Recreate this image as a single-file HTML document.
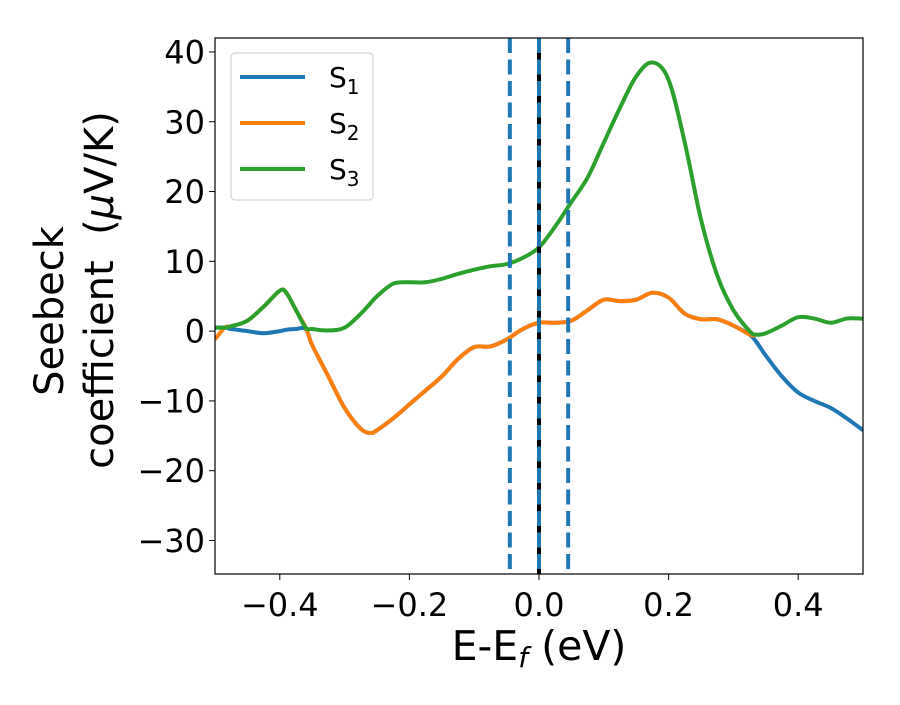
<!DOCTYPE html>
<html><head><meta charset="utf-8"><style>
body{margin:0;background:#fff}
svg text{font-family:"DejaVu Sans","Liberation Sans",sans-serif;fill:#000}
</style></head><body>
<svg id="chart" width="900" height="700" xmlns="http://www.w3.org/2000/svg">
<rect width="900" height="700" fill="#fff"/>
<g id="plot"></g>
</svg>
<script>
const xs=[-0.5,-0.485,-0.475,-0.45,-0.425,-0.4,-0.39,-0.375,-0.36,-0.35,-0.325,-0.3,-0.275,-0.26,-0.25,-0.225,-0.2,-0.175,-0.15,-0.125,-0.1,-0.075,-0.05,-0.025,0,0.025,0.05,0.075,0.1,0.125,0.15,0.175,0.2,0.225,0.25,0.275,0.3,0.325,0.335,0.35,0.375,0.4,0.425,0.45,0.475,0.5];
const s3=[0.5,0.5,0.7,1.5,3.5,5.8,5.5,3,0.5,0.3,0.1,0.5,2.5,4,5,6.8,7,7,7.5,8.2,8.8,9.3,9.6,10.5,12,15,18.5,22,27,32,36.5,38.5,36,27,16,8,3,0,-0.5,-0.3,0.8,2,1.8,1.2,1.8,1.8];
const s2=[-1.2,0.5,0.7,1.5,3.5,5.8,5.5,3,0.5,-2,-6.5,-11,-14,-14.6,-14.2,-12.5,-10.5,-8.5,-6.5,-4,-2.3,-2.2,-1.2,0.3,1.2,1.2,1.5,3,4.5,4.3,4.5,5.5,4.8,2.5,1.7,1.7,0.8,-0.5,-0.6,null,null,null,null,null,null,null];
const s1=[0.5,0.5,0.3,0,-0.3,0,0.2,0.3,0.3,-2,-6.5,-11,-14,-14.6,-14.2,-12.5,-10.5,-8.5,-6.5,-4,-2.3,-2.2,-1.2,0.3,1.2,1.2,1.5,3,4.5,4.3,4.5,5.5,4.8,2.5,1.7,1.7,0.8,-0.5,-1.5,-3.5,-6.5,-8.8,-10,-11,-12.5,-14.2];
const xTicks=[-0.4,-0.2,0.0,0.2,0.4];
const xTickLabels=["\u22120.4","\u22120.2","0.0","0.2","0.4"];
const yTicks=[-30,-20,-10,0,10,20,30,40];
const yTickLabels=["\u221230","\u221220","\u221210","0","10","20","30","40"];
const vlines=[-0.045,0,0.045];
const L=215,R=863,T=38,B=574,X0=-0.5,X1=0.5,Y0=-34.8,Y1=42.0;
const sx=v=>L+(v-X0)/(X1-X0)*(R-L);
const sy=v=>B-(v-Y0)/(Y1-Y0)*(B-T);
const NS="http://www.w3.org/2000/svg";
const g=document.getElementById('plot');
function mk(t,a,p){const e=document.createElementNS(NS,t);for(const k in a)e.setAttribute(k,a[k]);(p||g).appendChild(e);return e;}
const defs=mk('defs',{});const cp=mk('clipPath',{id:'c'},defs);mk('rect',{x:L,y:T,width:R-L,height:B-T},cp);
function path(ys){let pts=[];for(let i=0;i<xs.length;i++)if(ys[i]!==null)pts.push([sx(xs[i]),sy(ys[i])]);
 let d='M'+pts[0][0]+','+pts[0][1];
 for(let i=0;i<pts.length-1;i++){const p0=pts[i-1]||pts[i],p1=pts[i],p2=pts[i+1],p3=pts[i+2]||p2;
 d+=' C'+(p1[0]+(p2[0]-p0[0])/6)+','+(p1[1]+(p2[1]-p0[1])/6)+' '+(p2[0]-(p3[0]-p1[0])/6)+','+(p2[1]-(p3[1]-p1[1])/6)+' '+p2[0]+','+p2[1];}
 return d;}
const cols=['#1f77b4','#ff7f0e','#2ca02c'];
const lay=mk('g',{'clip-path':'url(#c)'});
[s1,s2,s3].forEach((s,i)=>{const p=mk('path',{d:path(s),fill:'none',stroke:cols[i],'stroke-width':4,'stroke-linejoin':'round'},lay);

});
const zl=mk('line',{x1:sx(0),x2:sx(0),y1:T,y2:B,stroke:'#000','stroke-width':4},lay);


vlines.forEach(v=>{const l=mk('line',{x1:sx(v),x2:sx(v),y1:T,y2:B,stroke:'#1f77b4','stroke-width':4,'stroke-dasharray':'15 6.5'},lay);

});
mk('rect',{x:L,y:T,width:R-L,height:B-T,fill:'none',stroke:'#000','stroke-width':1.2});
xTicks.forEach((v,i)=>{mk('line',{x1:sx(v),x2:sx(v),y1:B,y2:B+6,stroke:'#000'});
const t=mk('text',{x:sx(v),y:B+42,'text-anchor':'middle','font-size':32});t.textContent=xTickLabels[i];

});
yTicks.forEach((v,i)=>{mk('line',{x1:L-6,x2:L,y1:sy(v),y2:sy(v),stroke:'#000'});
const t=mk('text',{x:L-10,y:sy(v)+11.5,'text-anchor':'end','font-size':32});t.textContent=yTickLabels[i];

});
</script>
<svg width="900" height="700" style="position:absolute;left:0;top:0" xmlns="http://www.w3.org/2000/svg">
<text x="539" y="660" text-anchor="middle" font-size="41">E-E<tspan font-size="28" dy="7" font-style="italic">f</tspan><tspan dy="-7"> (eV)</tspan></text>
<g font-size="40">
<text transform="translate(63,311) rotate(-90)" text-anchor="middle">Seebeck</text>
<text transform="translate(113,290) rotate(-90)" text-anchor="middle" style="white-space:pre">coefficient  (<tspan font-style="italic">μ</tspan>V/K)</text>
</g>
<g>
<rect x="231" y="53" width="142" height="147" rx="4" fill="#fff" fill-opacity="0.85" stroke="#ccc"/>
<g><line x1="240" x2="305" y1="77" y2="77" stroke="#1f77b4" stroke-width="4"/><text x="329" y="87" font-size="28">S<tspan font-size="20" dy="7">1</tspan></text></g>
<g><line x1="240" x2="305" y1="123" y2="123" stroke="#ff7f0e" stroke-width="4"/><text x="329" y="133" font-size="28">S<tspan font-size="20" dy="7">2</tspan></text></g>
<g><line x1="240" x2="305" y1="169" y2="169" stroke="#2ca02c" stroke-width="4"/><text x="329" y="179" font-size="28">S<tspan font-size="20" dy="7">3</tspan></text></g>
</g>
</svg>
</body></html>
